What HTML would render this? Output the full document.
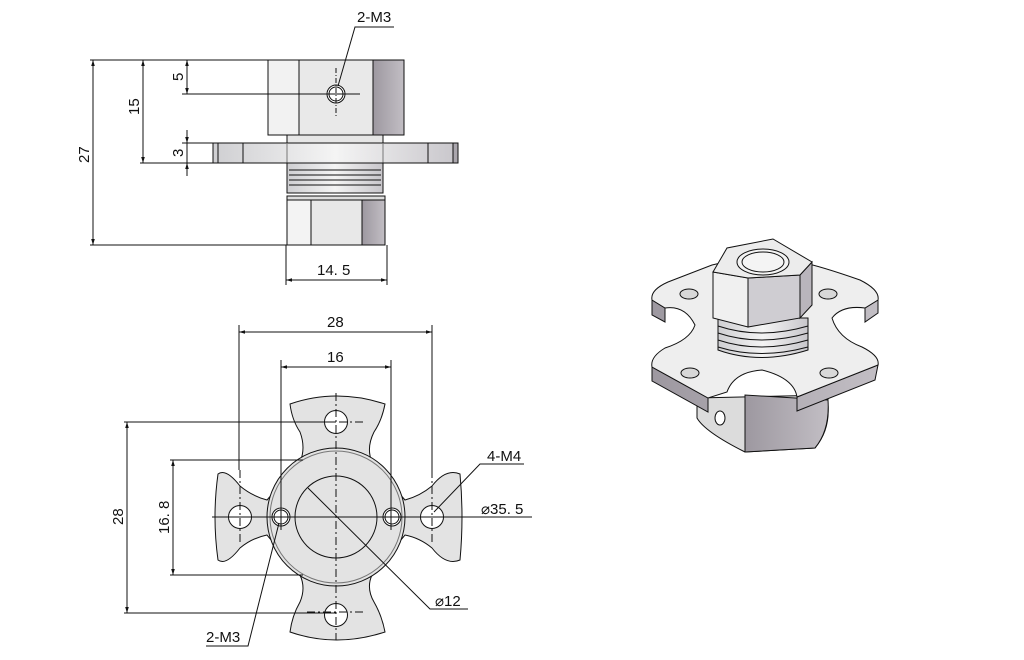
<!DOCTYPE html>
<html><head><meta charset="utf-8"><style>
html,body{margin:0;padding:0;background:#fff;}
svg{display:block;}
text{font-family:"Liberation Sans",sans-serif;font-size:15px;fill:#111;}
</style></head><body>
<svg width="1024" height="660" viewBox="0 0 1024 660" xmlns="http://www.w3.org/2000/svg">
<defs>
<marker id="a" viewBox="0 0 10 10" refX="10" refY="5" markerWidth="8" markerHeight="6" orient="auto-start-reverse"><path d="M0,2 L10,5 L0,8 z" fill="#111"/></marker>
<linearGradient id="g1" x1="0" x2="1"><stop offset="0" stop-color="#cfcfd2"/><stop offset="0.5" stop-color="#f4f4f4"/><stop offset="1" stop-color="#c8c6cb"/></linearGradient>
<linearGradient id="g2" x1="0" x2="1"><stop offset="0" stop-color="#9d98a0"/><stop offset="1" stop-color="#c2bec4"/></linearGradient>
</defs>
<g stroke="#111" stroke-width="1" fill="none">
<!-- TOP VIEW -->
<rect x="268" y="60" width="136" height="75" fill="#e9e9e9"/>
<rect x="268" y="60" width="31" height="75" fill="#f2f2f2"/>
<rect x="373" y="60" width="31" height="75" fill="url(#g2)"/>
<rect x="287" y="135" width="96" height="8" fill="#e6e6e6"/>
<rect x="213" y="143" width="245" height="20" fill="url(#g1)"/>
<line x1="218" y1="143" x2="218" y2="163"/><line x1="243" y1="143" x2="243" y2="163"/>
<line x1="428" y1="143" x2="428" y2="163"/><line x1="453" y1="143" x2="453" y2="163"/>
<rect x="453" y="143" width="5" height="20" fill="#aaa6ad"/>
<line x1="287" y1="143" x2="287" y2="163" stroke="#777"/><line x1="383" y1="143" x2="383" y2="163" stroke="#777"/>
<rect x="287" y="163" width="96" height="30" fill="url(#g1)"/>
<line x1="289" y1="170" x2="381" y2="170"/><line x1="289" y1="175" x2="381" y2="175"/><line x1="289" y1="180" x2="381" y2="180"/><line x1="289" y1="185" x2="381" y2="185"/>
<rect x="287" y="196" width="98" height="4" fill="#ddd"/>
<rect x="287" y="200" width="98" height="45" fill="#e8e8e8"/>
<rect x="287" y="200" width="24" height="45" fill="#f3f3f3"/>
<rect x="362" y="200" width="23" height="45" fill="url(#g2)"/>
<circle cx="336" cy="94" r="9" fill="#fff"/><circle cx="336" cy="94" r="7"/>
<line x1="336" y1="68" x2="336" y2="118" stroke-dasharray="5,2,1,2"/>
<!-- dims top -->
<line x1="90" y1="60" x2="268" y2="60"/><line x1="90" y1="245" x2="287" y2="245"/>
<line x1="93" y1="60" x2="93" y2="245" marker-start="url(#a)" marker-end="url(#a)"/>
<line x1="140" y1="163" x2="213" y2="163"/>
<line x1="143" y1="60" x2="143" y2="163" marker-start="url(#a)" marker-end="url(#a)"/>
<line x1="182" y1="94" x2="360" y2="94"/>
<line x1="187" y1="60" x2="187" y2="94" marker-start="url(#a)" marker-end="url(#a)"/>
<line x1="182" y1="143" x2="213" y2="143"/>
<line x1="187" y1="130" x2="187" y2="143" marker-end="url(#a)"/>
<line x1="187" y1="176" x2="187" y2="163" marker-end="url(#a)"/>
<line x1="187" y1="143" x2="187" y2="163"/>
<line x1="286" y1="245" x2="286" y2="285"/><line x1="387" y1="245" x2="387" y2="285"/>
<line x1="286" y1="280" x2="387" y2="280" marker-start="url(#a)" marker-end="url(#a)"/>
<polyline points="338,86 355,27 394,27" />
<!-- BOTTOM VIEW -->
<path d="M290,404 Q336,388 385,404 Q382,420 374,432 Q366,448 372,462 L405,500 Q420,496 432,486 Q446,468 460,474 Q464,517 460,560 Q446,566 432,548 Q420,538 405,535 L372,575 Q366,588 374,602 Q382,616 385,632 Q336,648 290,632 Q292,616 300,602 Q306,588 300,575 L267,535 Q252,538 240,548 Q226,566 218,560 Q212,517 218,474 Q226,468 240,486 Q252,496 267,500 L300,462 Q306,448 300,432 Q292,420 290,404 z" fill="#e3e3e3"/>
<circle cx="336" cy="517" r="69" fill="#e3e3e3"/>
<circle cx="336" cy="517" r="66" stroke="#777"/>
<circle cx="336" cy="517" r="41"/>
<circle cx="336" cy="422" r="11.5" fill="#fff"/><circle cx="336" cy="615" r="11.5" fill="#fff"/>
<circle cx="240" cy="517" r="11.5" fill="#fff"/><circle cx="432" cy="517" r="11.5" fill="#fff"/>
<circle cx="281" cy="517" r="9" fill="#fff"/><circle cx="281" cy="517" r="7"/>
<circle cx="392" cy="517" r="9" fill="#fff"/><circle cx="392" cy="517" r="7"/>
<line x1="212" y1="517" x2="532" y2="517"/>
<line x1="336" y1="393" x2="336" y2="640" stroke-dasharray="8,3,2,3"/>
<line x1="307" y1="422" x2="365" y2="422" stroke-dasharray="8,3,2,3"/>
<line x1="307" y1="612" x2="365" y2="612" stroke-dasharray="8,3,2,3"/>
<line x1="240" y1="470" x2="240" y2="545" stroke-dasharray="8,3,2,3"/>
<line x1="432" y1="470" x2="432" y2="545" stroke-dasharray="8,3,2,3"/>
<line x1="239" y1="325" x2="239" y2="470"/><line x1="432" y1="325" x2="432" y2="470"/>
<line x1="239" y1="332" x2="432" y2="332" marker-start="url(#a)" marker-end="url(#a)"/>
<line x1="281" y1="360" x2="281" y2="530"/><line x1="391" y1="360" x2="391" y2="530"/>
<line x1="281" y1="367" x2="391" y2="367" marker-start="url(#a)" marker-end="url(#a)"/>
<line x1="124" y1="422" x2="336" y2="422"/><line x1="124" y1="613" x2="336" y2="613"/>
<line x1="127" y1="422" x2="127" y2="613" marker-start="url(#a)" marker-end="url(#a)"/>
<line x1="170" y1="460" x2="303" y2="460"/><line x1="170" y1="575" x2="303" y2="575"/>
<line x1="173" y1="460" x2="173" y2="575" marker-start="url(#a)" marker-end="url(#a)"/>
<polyline points="434,512 480,464 524,464"/>
<polyline points="308,488 430,609 468,609"/>
<polyline points="279,523 248,646 206,646"/>
<!-- 3D VIEW -->
<path d="M697,398 L697,418 Q705,432 745,452 L815,448 Q830,430 828,405 L828,395 z" fill="#dcdcdc"/>
<path d="M745,395 L745,452 L815,448 Q830,430 828,400 z" fill="url(#g2)"/>
<path d="M652,300 L652,315 L665,322 L665,308 z M652,367 L652,381 L708,412 L708,398 z M797,397 L797,411 L875,380 L878,365 z M878,300 L878,313 L865,322 L865,308 z" fill="url(#g2)"/>
<path d="M652,300 Q650,290 668,282 L712,265 L725,262 L800,262 Q820,266 860,280 Q880,290 878,300 L865,308 Q842,305 832,318 Q838,338 862,347 Q880,356 878,365 L797,397 Q794,378 762,370 Q734,372 727,392 L708,398 L652,367 Q650,357 665,348 Q690,340 695,325 Q685,305 665,308 z" fill="#eeeeee"/>
<ellipse cx="689" cy="294" rx="9" ry="5" fill="#d8d8d8"/><ellipse cx="828" cy="294" rx="9" ry="5" fill="#d8d8d8"/>
<ellipse cx="690" cy="373" rx="9" ry="5" fill="#d8d8d8"/><ellipse cx="829" cy="373" rx="9" ry="5" fill="#d8d8d8"/>
<path d="M718,318 L718,350 Q760,365 808,350 L808,318 z" fill="url(#g1)"/>
<path d="M718,326 Q760,340 808,326 M718,333 Q760,347 808,333 M718,340 Q760,354 808,340 M718,347 Q760,360 808,347"/>
<path d="M713,272 L713,318 L748,327 L748,278 z" fill="#f0f0f0"/>
<path d="M748,278 L748,327 L800,318 L800,275 z" fill="#cfcdd2"/>
<path d="M800,275 L800,318 L812,305 L812,262 z" fill="#b9b5bc"/>
<path d="M713,272 L727,248 L773,239 L812,262 L800,275 L748,278 z" fill="#ececec"/>
<ellipse cx="763" cy="262" rx="26" ry="13" fill="#f4f4f4"/>
<ellipse cx="763" cy="262" rx="21" ry="10"/>
<ellipse cx="720" cy="418" rx="5" ry="7" fill="#fff"/>
</g>
<text x="357" y="22">2-M3</text>
<text transform="translate(93,155) rotate(-90)" x="-8" y="-4" >27</text>
<text transform="translate(143,107) rotate(-90)" x="-8" y="-4">15</text>
<text transform="translate(187,77) rotate(-90)" x="-4" y="-4">5</text>
<text transform="translate(187,153) rotate(-90)" x="-4" y="-4">3</text>
<text x="317" y="275">14. 5</text>
<text x="327" y="327">28</text>
<text x="327" y="362">16</text>
<text transform="translate(127,517) rotate(-90)" x="-8" y="-4">28</text>
<text transform="translate(173,517) rotate(-90)" x="-17" y="-4">16. 8</text>
<text x="487" y="461">4-M4</text>
<text x="481" y="514">⌀35. 5</text>
<text x="435" y="606">⌀12</text>
<text x="206" y="642">2-M3</text>
</svg>
</body></html>
